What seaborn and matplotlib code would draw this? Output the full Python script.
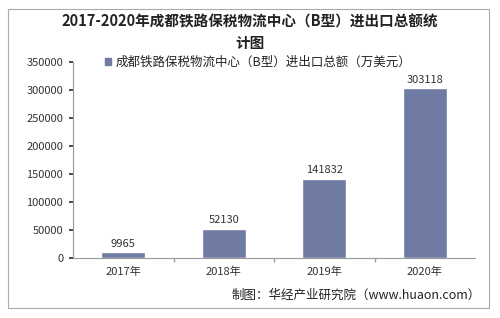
import matplotlib
matplotlib.use("Agg")
import matplotlib.pyplot as plt
import matplotlib.patches as mpatches
import numpy as np
import pandas as pd
import seaborn as sns

years = ["2017年", "2018年", "2019年", "2020年"]
values = [9965, 52130, 141832, 303118]
series_name = "成都铁路保税物流中心（B型）进出口总额（万美元）"
title = "2017-2020年成都铁路保税物流中心（B型）进出口总额统\n计图"
source = "制图：华经产业研究院（www.huaon.com）"

sns.set_theme(style="white")
plt.rcParams["font.family"] = ["Noto Sans CJK SC", "DejaVu Sans"]

df = pd.DataFrame({"year": years, "value": values})
bar_color = "#6f7ba2"

fig = plt.figure(figsize=(5, 3.18), dpi=100)
ax = fig.add_axes([0.146, 0.189, 0.804, 0.616])
sns.barplot(data=df, x="year", y="value", color=bar_color, width=0.44,
            saturation=1, ax=ax)

ax.set_ylim(0, 350000)
ax.set_yticks(np.arange(0, 350001, 50000))
ax.set_xlim(-0.5, 3.5)
ax.set_xlabel("")
ax.set_ylabel("")
ax.tick_params(axis="y", labelsize=8, colors="#333333", length=3, direction="out",
               left=True, pad=4)
ax.tick_params(axis="x", labelsize=8, colors="#333333", length=0, pad=6)
ax.set_xticks([0.5, 1.5, 2.5], minor=True)
ax.tick_params(axis="x", which="minor", length=3, color="#999999", bottom=True)
for side in ["top", "right"]:
    ax.spines[side].set_visible(False)
for side in ["left", "bottom"]:
    ax.spines[side].set_color("#999999")
    ax.spines[side].set_linewidth(0.8)

for i, v in enumerate(values):
    ax.text(i, v + 6000, str(v), ha="center", va="bottom", fontsize=8, color="#333333")

handle = mpatches.Patch(color=bar_color, label=series_name)
ax.legend(handles=[handle], loc="center left", bbox_to_anchor=(0.08, 1.0),
          frameon=False, fontsize=9, handlelength=0.5, handleheight=0.5,
          handletextpad=0.3, borderaxespad=0, borderpad=0)

fig.text(0.5, 0.9, title, ha="center", va="center", fontsize=10.5,
         fontweight="bold", color="#222222", linespacing=1.45)
fig.text(0.962, 0.07, source, ha="right", va="center", fontsize=9, color="#222222")

border = mpatches.Rectangle((0.016, 0.03), 0.962, 0.942, transform=fig.transFigure,
                            fill=False, edgecolor="#aaaaaa", linewidth=0.8)
fig.patches.append(border)

fig.savefig("out.png", dpi=100)
